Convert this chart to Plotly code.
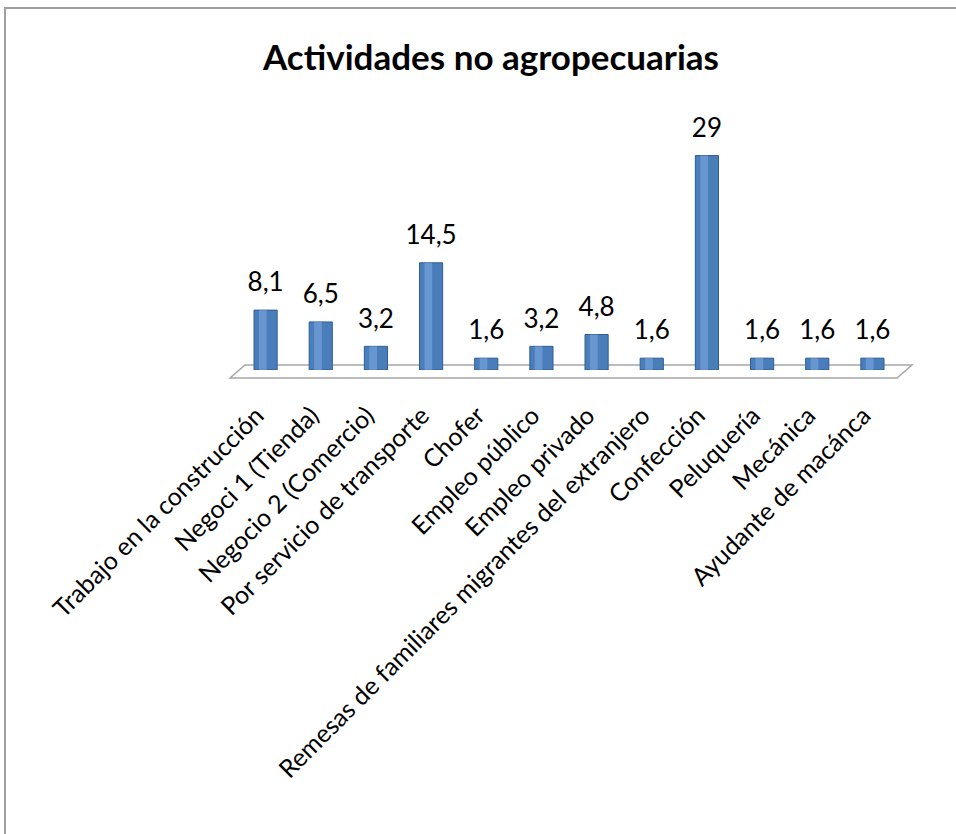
import plotly.graph_objects as go

categorias = ["Trabajo en la construcción", "Negoci 1 (Tienda)", "Negocio 2 (Comercio)",
              "Por servicio de transporte", "Chofer", "Empleo público", "Empleo privado",
              "Remesas de familiares migrantes del extranjero", "Confección", "Peluquería",
              "Mecánica", "Ayudante de macánca"]
valores = [8.1, 6.5, 3.2, 14.5, 1.6, 3.2, 4.8, 1.6, 29, 1.6, 1.6, 1.6]
etiquetas = [("%g" % v).replace(".", ",") for v in valores]

W, H = 956, 834
L, R, T, B = 238, 56, 126, 464
pw, ph = W - L - R, H - T - B

def px(x):  # pixel -> paper x
    return (x - L) / pw

def py(y):  # pixel -> paper y
    return (H - B - y) / ph

fig = go.Figure()

# cuerpo del cilindro
fig.add_trace(go.Bar(
    x=categorias, y=valores, width=0.42,
    marker=dict(color="#4A7EBB", line=dict(color="#2E5C94", width=1)),
    hoverinfo="skip"))
# brillo
fig.add_trace(go.Bar(
    x=categorias, y=valores, width=0.14, offset=-0.12,
    marker=dict(color="rgba(130,170,225,0.55)", line=dict(width=0)),
    hoverinfo="skip"))
# etiquetas de datos
fig.add_trace(go.Scatter(
    x=categorias, y=valores, mode="markers+text", text=etiquetas,
    textposition="top center", cliponaxis=False,
    marker=dict(size=18, opacity=0),
    textfont=dict(family="Lato", size=26, color="black"),
    hoverinfo="skip"))

fig.update_layout(
    width=W, height=H, barmode="overlay", showlegend=False,
    margin=dict(l=L, r=R, t=T, b=B),
    paper_bgcolor="white", plot_bgcolor="white",
    title=dict(text="<b>Actividades no agropecuarias</b>", x=491 / W, xref="container",
               xanchor="center", y=1 - 58 / H, yref="container", yanchor="middle",
               font=dict(family="Lato", size=35, color="black")),
    xaxis=dict(tickangle=-45, showgrid=False, showline=False, ticks="",
               tickvals=categorias, ticktext=[c + "\u00a0\u00a0" for c in categorias],
               tickfont=dict(family="Lato", size=25, color="black"),
               ticklabelstandoff=16, range=[-0.5, 11.5]),
    yaxis=dict(range=[0, 33], visible=False),
    shapes=[
        # suelo
        dict(type="path", xref="paper", yref="paper", layer="below",
             path="M %f,%f L %f,%f L %f,%f L %f,%f Z" % (
                 px(230), py(378), px(245), py(365), px(912), py(365), px(897), py(378)),
             line=dict(color="#A6A6A6", width=1.5), fillcolor="white"),
        # marco
        dict(type="path", xref="paper", yref="paper",
             path="M %f,%f L %f,%f L %f,%f" % (px(5), py(840), px(5), py(8), px(960), py(8)),
             line=dict(color="#A0A0A0", width=2)),
    ])

fig.write_html("out.html", config={"displayModeBar": False},
               post_script="document.body.style.margin='0';")
